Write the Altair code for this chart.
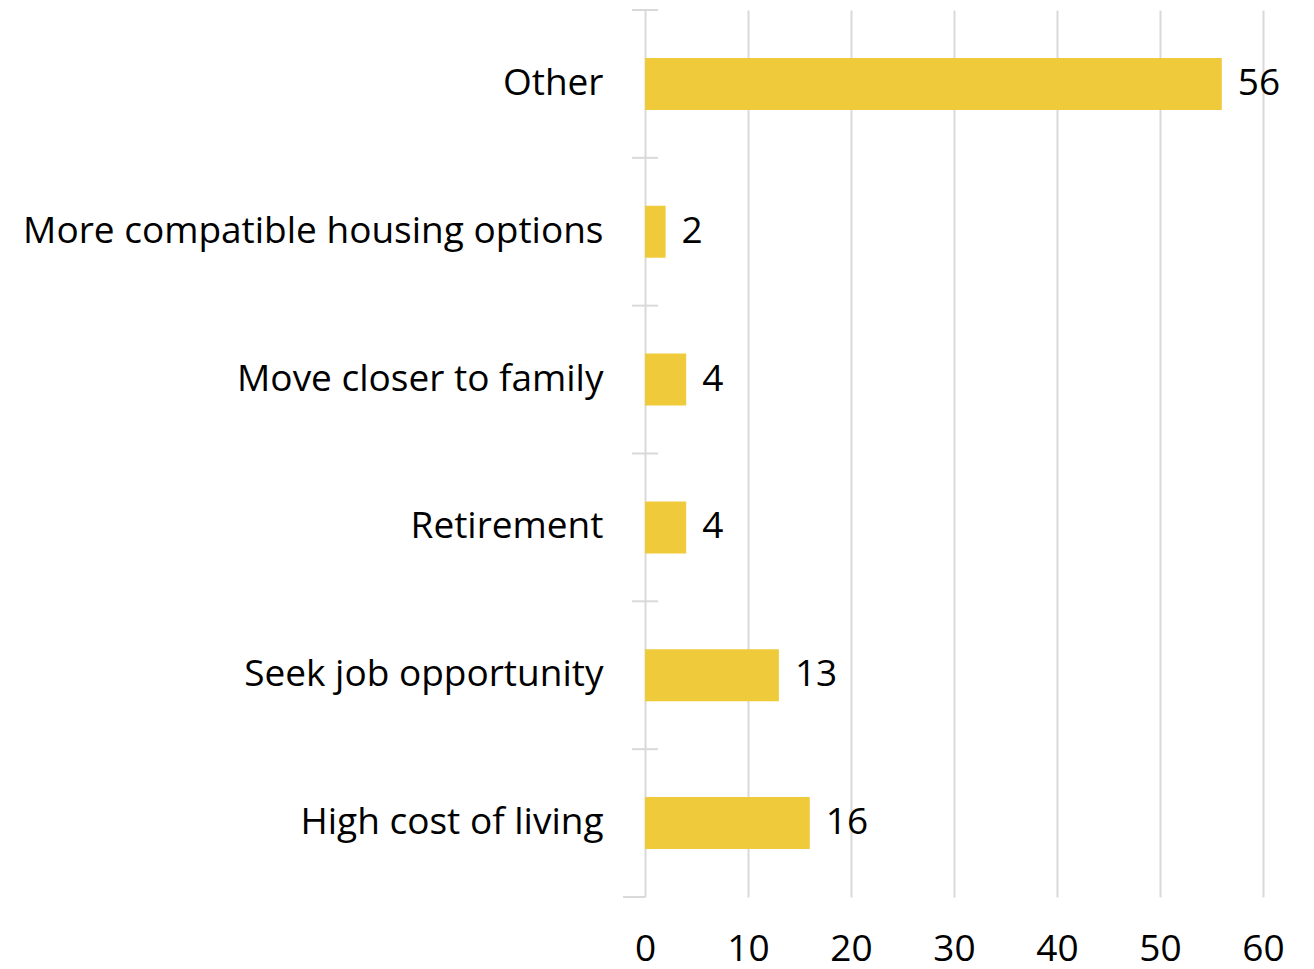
import altair as alt
import pandas as pd

categories = ["Other", "More compatible housing options", "Move closer to family",
              "Retirement", "Seek job opportunity", "High cost of living"]
values = [56, 2, 4, 4, 13, 16]

df = pd.DataFrame({"reason": categories, "count": values})

FONT = "Open Sans"
FS = 37
GRID = "#d9d9d9"

y_scale = alt.Scale(paddingInner=0, paddingOuter=0)

y_enc = alt.Y("reason:N", sort=categories, scale=y_scale,
              axis=alt.Axis(title=None, domain=False, ticks=False,
                            labelFont=FONT, labelFontSize=FS, labelColor="#000000",
                            labelPadding=42, labelLimit=1000))

x_enc = alt.X("count:Q", scale=alt.Scale(domain=[0, 60], nice=False),
              axis=alt.Axis(title=None, values=[0, 10, 20, 30, 40, 50, 60], domain=False,
                            ticks=False, grid=True, gridColor=GRID, gridWidth=2,
                            labelFont=FONT, labelFontSize=FS, labelColor="#000000",
                            labelPadding=34, labelFlush=False))

bars = alt.Chart(df).mark_bar(color="#EFCB3B", size=52).encode(x=x_enc, y=y_enc)

labels = alt.Chart(df).mark_text(align="left", baseline="middle", dx=16, font=FONT,
                                 fontSize=FS, color="#000000").encode(
    x="count:Q", y=alt.Y("reason:N", sort=categories), text="count:Q")

ticks_top = alt.Chart(df).mark_rule(color=GRID, strokeWidth=2).encode(
    y=alt.Y("reason:N", sort=categories, bandPosition=0),
    x=alt.value(-13), x2=alt.value(13))

ticks_bottom = alt.Chart(df[df["reason"] == categories[-1]]).mark_rule(
    color=GRID, strokeWidth=2).encode(
    y=alt.Y("reason:N", sort=categories, bandPosition=1),
    x=alt.value(-22), x2=alt.value(0))

chart = (bars + ticks_top + ticks_bottom + labels).properties(
    width=618, height=887,
    background="#ffffff",
    autosize=alt.AutoSizeParams(type="none"),
    padding={"left": 637, "top": 2, "right": 43, "bottom": 90},
).configure_view(stroke=None)

chart.save("out.html", embed_options={"renderer": "svg", "actions": False})
